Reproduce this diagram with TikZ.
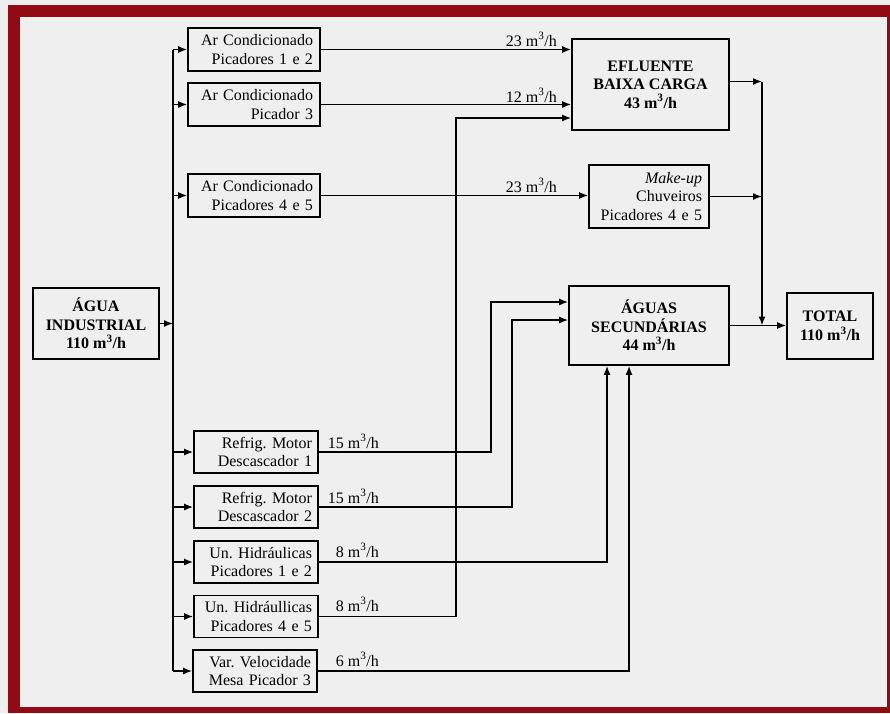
\documentclass[tikz,border=0pt]{standalone}
\usepackage{fontspec}
\setmainfont{Liberation Serif}
\usetikzlibrary{arrows.meta,positioning,calc}
\definecolor{framered}{RGB}{145,10,20}
\definecolor{paper}{RGB}{239,239,240}
\newcommand{\mh}{m\textsuperscript{3}/h}
\frenchspacing

\begin{document}
\begin{tikzpicture}[x=1pt, y=-1pt,
    every node/.style={font=\fontsize{16}{18.5}\selectfont},
    feedbox/.style={draw, line width=1.7pt, text width=118pt, inner xsep=7pt, minimum height=43pt, align=right},
    userbox/.style={draw, line width=1.7pt, text width=112pt, inner xsep=6pt, minimum height=42pt, align=right},
    sinkbox/.style={draw, line width=1.7pt, align=center, font=\fontsize{16}{18.5}\selectfont\bfseries},
    rate/.style={anchor=base east, inner sep=0pt},
    arr/.style={-{Latex[length=9pt,width=7pt]}, line width=1.5pt}]
    \useasboundingbox (0,0) rectangle (890,713);

    % Frame
    \fill[paper] (0,0) rectangle (890,713);
    \fill[framered] (8,5) rectangle (890,713);
    \fill[paper] (20,17) rectangle (887,707);

    % Source
    \node[sinkbox, minimum width=126pt, minimum height=71pt] (agua) at (96,323.5) {ÁGUA\\INDUSTRIAL\\110 \mh};

    % Consumers
    \node[feedbox] (b1) at (254,49.5) {Ar Condicionado\\Picadores 1 e 2};
    \node[feedbox] (b2) at (254,104.5) {Ar Condicionado\\Picador 3};
    \node[feedbox] (b3) at (254,195.5) {Ar Condicionado\\Picadores 4 e 5};
    \node[userbox] (b4) at (256,452) {Refrig. Motor\\Descascador 1};
    \node[userbox] (b5) at (256,507) {Refrig. Motor\\Descascador 2};
    \node[userbox] (b6) at (256,562) {Un. Hidráulicas\\Picadores 1 e 2};
    \node[userbox] (b7) at (256,616.5) {Un. Hidráullicas\\Picadores 4 e 5};
    \node[userbox] (b8) at (255,671) {Var. Velocidade\\Mesa Picador 3};

    % Destinations
    \node[sinkbox, minimum width=157pt, minimum height=91pt] (ebc) at (650.5,84.5) {EFLUENTE\\BAIXA CARGA\\43 \mh};
    \node[draw, line width=1.7pt, text width=106pt, inner xsep=7pt, minimum height=63pt, align=right] (mk) at (649,196.5) {\textit{Make-up}\\Chuveiros\\Picadores 4 e 5};
    \node[sinkbox, minimum width=160pt, minimum height=79pt] (sec) at (649,325.5) {ÁGUAS\\SECUNDÁRIAS\\44 \mh};
    \node[sinkbox, minimum width=86pt, minimum height=66pt] (tot) at (830,326) {TOTAL\\110 \mh};

    % Distribution trunk
    \coordinate (tr) at (173,0);
    \draw[line width=1.5pt] (b1.west -| tr) -- (b8.west -| tr);
    \draw[arr] (agua.east) -- (agua.east -| tr);
    \foreach \b in {b1,b2,b3,b4,b5,b6,b7,b8}
        \draw[arr] (\b.west -| tr) -- (\b.west);

    % Flows to effluent and make-up
    \coordinate (e3) at (456,118);
    \draw[arr] (b1.east) -- (b1.east -| ebc.west);
    \draw[arr] (b2.east) -- (b2.east -| ebc.west);
    \draw[arr] (b7.east) -| (e3) -- (e3 -| ebc.west);
    \draw[arr] (b3.east) -- (b3.east -| mk.west);

    % Flows to secondary waters
    \coordinate (s1) at (491,302);
    \coordinate (s2) at (512,320);
    \coordinate (u1) at (607,0);
    \coordinate (u2) at (629,0);
    \draw[arr] (b4.east) -| (s1) -- (s1 -| sec.west);
    \draw[arr] (b5.east) -| (s2) -- (s2 -| sec.west);
    \draw[arr] (b6.east) -| (u1 |- sec.south);
    \draw[arr] (b8.east) -| (u2 |- sec.south);

    % Collector to total
    \coordinate (cx) at (762,0);
    \draw[arr] ([yshift=3pt]ebc.east) -- ([yshift=3pt]ebc.east -| cx);
    \draw[arr] (mk.east) -- (mk.east -| cx);
    \draw[arr] ([yshift=3pt]ebc.east -| cx) -- (sec.east -| cx);
    \draw[arr] (sec.east) -- (sec.east -| tot.west);

    % Flow rates
    \node[rate] (r1) at (557,46) {23 \mh};
    \node[rate] (r2) at (557,102) {12 \mh};
    \node[rate] (r3) at (557,192) {23 \mh};
    \node[rate] (r4) at (379,448) {15 \mh};
    \node[rate] (r5) at (379,503) {15 \mh};
    \node[rate] (r6) at (379,557) {8 \mh};
    \node[rate] (r7) at (379,611) {8 \mh};
    \node[rate] (r8) at (379,666) {6 \mh};
\end{tikzpicture}
\end{document}
